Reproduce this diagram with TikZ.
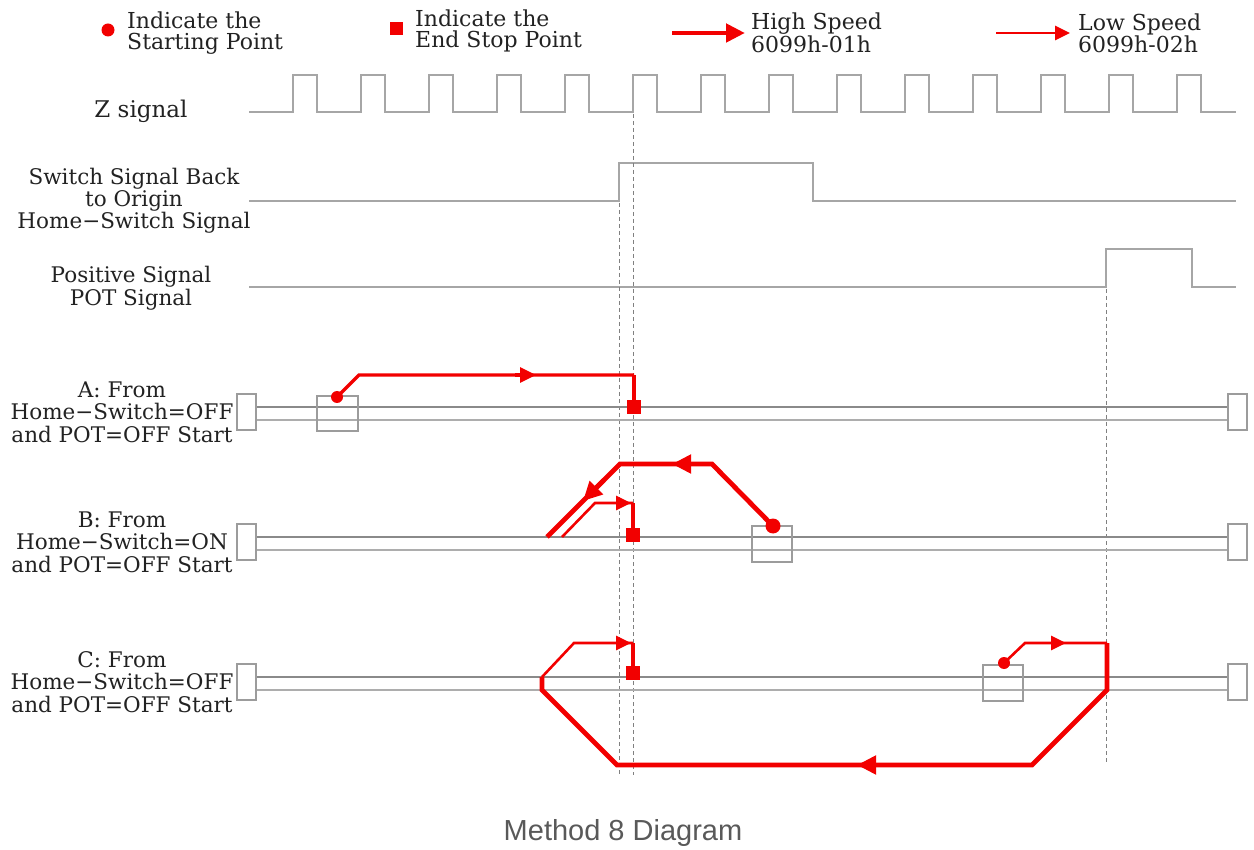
\documentclass[tikz,border=0pt]{standalone}
\usepackage{fontspec}
\setmainfont{DejaVu Serif}
\newfontfamily\capfont{Liberation Sans}
\usetikzlibrary{arrows.meta}
\definecolor{sig}{HTML}{A6A6A6}
\definecolor{trk}{HTML}{8A8A8A}
\definecolor{rd}{HTML}{F20000}
\definecolor{txt}{HTML}{222222}
\begin{document}
\begin{tikzpicture}[x=1pt,y=-1pt,
  sigline/.style={draw=sig, line width=1.8pt},
  track/.style={draw=trk, line width=1.3pt},
  endbox/.style={draw=trk!85, line width=1.2pt},
  guide/.style={draw=gray, line width=0.9pt, dash pattern=on 4pt off 3pt},
  fast/.style={draw=rd, line width=4.8pt},
  slow/.style={draw=rd, line width=2.6pt},
  mid/.style={draw=rd, line width=3.2pt},
  fasttip/.style={-{Triangle[length=19pt,width=18pt]}},
  slowtip/.style={-{Triangle[length=15pt,width=14pt]}},
  lbl/.style={font=\fontsize{21.5}{22.5}\selectfont, align=center, text=txt, inner sep=0pt},
  leg/.style={font=\fontsize{22}{21}\selectfont, align=left, text=txt, inner sep=0pt, anchor=west},
  startdot/.style={circle, fill=rd, inner sep=0pt, minimum size=12pt},
  stopsq/.style={rectangle, fill=rd, inner sep=0pt, minimum size=14pt},
  legsq/.style={rectangle, fill=rd, inner sep=0pt, minimum size=13pt},
]
\useasboundingbox (0,0) rectangle (1254,850);

% ---------------- legend ----------------
\node[startdot, minimum size=13pt] (ldot) at (108,30) {};
\node[leg] (ltxt1) at (127,33) {Indicate the\\Starting Point};
\node[legsq] (lsq) at (396,29) {};
\node[leg] (ltxt2) at (415,31) {Indicate the\\End Stop Point};
\coordinate (hs1) at (672,33); \coordinate (hs2) at (745,33);
\draw[fast, fasttip] (hs1) -- (hs2);
\node[leg] (ltxt3) at (751,33) {High Speed\\6099h-01h};
\coordinate (ls1) at (996,33); \coordinate (ls2) at (1070,33);
\draw[slow, slowtip] (ls1) -- (ls2);
\node[leg] (ltxt4) at (1078,33) {Low Speed\\6099h-02h};

% ---------------- signals ----------------
\node[lbl, font=\fontsize{23}{22.5}\selectfont] (zlbl) at (141,111) {Z signal};
\draw[sigline] (249,112) foreach \i in {0,...,13} { -- ({293+68*\i},112) -- ++(0,-37) -- ++(24,0) -- ++(0,37) } -- (1236,112);

\node[lbl, font=\fontsize{21.5}{16.5}\selectfont] (swlbl) at (134,201) {Switch Signal Back\\to Origin\\Home\textminus Switch Signal};
\draw[sigline] (249,201) -- (619,201) -- (619,163) -- (813,163) -- (813,201) -- (1236,201);

\node[lbl] (potlbl) at (131,288) {Positive Signal\\POT Signal};
\draw[sigline] (249,287) -- (1106,287) -- (1106,249) -- (1192,249) -- (1192,287) -- (1236,287);

% guide lines
\draw[guide] (633,114) -- (633,775);
\draw[guide] (619,203) -- (619,775);
\draw[guide] (1106,289) -- (1106,763);

% ---------------- tracks ----------------
\foreach \ty/\nm/\ln in {407/A/{A: From\\Home\textminus Switch=OFF\\and POT=OFF Start},
                         537/B/{B: From\\Home\textminus Switch=ON\\and POT=OFF Start},
                         677/C/{C: From\\Home\textminus Switch=OFF\\and POT=OFF Start}}{
  \draw[track] (256,\ty) -- (1228,\ty);
  \draw[track, draw=trk!70] (256,\ty+13) -- (1228,\ty+13);
  \draw[endbox] (237,\ty-13) rectangle (256,\ty+23);
  \draw[endbox] (1228,\ty-13) rectangle (1247,\ty+23);
  \node[lbl] (lab\nm) at (122,\ty+5) {\ln};
}
\draw[endbox] (317,396) rectangle (358,431);
\draw[endbox] (752,526) rectangle (792,562);
\draw[endbox] (983,665) rectangle (1023,701);

% ---------------- path A ----------------
\node[startdot] (As) at (337,397) {};
\node[stopsq] (Ae) at (634,407) {};
\coordinate (A1) at (359,375);
\coordinate (A2) at (634,375);
\draw[mid] (As.center) -- (A1) -- (A2);
\draw[fast] (A2) -- (Ae.north);
\draw[mid, -{Triangle[length=16pt,width=15pt]}] (515,375) -- (536,375);

% ---------------- path B ----------------
\node[startdot, minimum size=15pt] (Bs) at (773,526) {};
\node[stopsq] (Be) at (633,535) {};
\coordinate (B1) at (712,464);
\coordinate (B2) at (620,464);
\coordinate (B3) at (547,537);
\draw[fast] (Bs.center) -- (B1) -- (B2) -- (B3);
\draw[fast, fasttip] (695,464) -- (672,464);
\draw[fast, fasttip] (604,480) -- (583,501);
\coordinate (B4) at (562,537);
\coordinate (B5) at (595,503);
\coordinate (B6) at (633,503);
\draw[slow] (B4) -- (B5) -- (B6);
\draw[mid] (B6) -- (Be.north);
\draw[slow, slowtip] (615,503) -- (631,503);

% ---------------- path C ----------------
\node[startdot] (Cs) at (1004,663) {};
\node[stopsq] (Ce) at (633,673) {};
\coordinate (C1) at (1025,643);
\coordinate (C2) at (1107,643);
\coordinate (C3) at (1107,690);
\coordinate (C4) at (1032,765);
\coordinate (C5) at (617,765);
\coordinate (C6) at (542,690);
\coordinate (C7) at (542,677);
\coordinate (C8) at (574,643);
\coordinate (C9) at (633,643);
\draw[slow] (Cs.center) -- (C1) -- (C2);
\draw[slow, slowtip] (1050,643) -- (1066,643);
\draw[fast] (C2) -- (C3) -- (C4) -- (C5) -- (C6) -- (C7);
\draw[fast, fasttip] (880,765) -- (857,765);
\draw[slow] (C7) -- (C8) -- (C9);
\draw[slow, slowtip] (615,643) -- (631,643);
\draw[mid] (C9) -- (Ce.north);

% ---------------- caption ----------------
\node[font=\capfont\fontsize{29}{29}\selectfont, text=black!65, inner sep=0pt] (cap) at (623,833) {Method 8 Diagram};
\end{tikzpicture}
\end{document}
